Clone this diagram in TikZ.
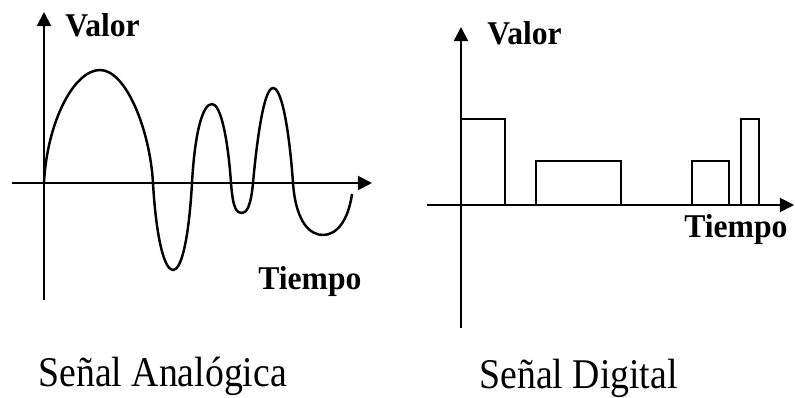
\documentclass[tikz,border=0pt]{standalone}
\usepackage{fontspec}
\setmainfont{Liberation Serif}
\usetikzlibrary{arrows.meta, positioning}

\begin{document}
\begin{tikzpicture}[
  x=0.02cm, y=-0.02cm,
  eje/.style={draw=black, line width=1.1pt, -{Triangle[length=8pt,width=8pt]}},
  onda/.style={draw=black, line width=1.4pt, line join=round},
  pulso/.style={draw=black, line width=1.1pt, line join=miter},
  etiq/.style={font=\fontsize{18}{21}\selectfont\bfseries, inner sep=0pt, anchor=base west},
  titulo/.style={font=\fontsize{21.5}{25}\selectfont, inner sep=0pt, anchor=base west}
]
\useasboundingbox (0,0) rectangle (795,398);

\coordinate (abajoA) at (44,300);
\coordinate (arribaA) at (44,12);
\coordinate (izqA) at (12,183);
\coordinate (derA) at (372,183);
\coordinate (abajoD) at (461,328);
\coordinate (arribaD) at (461,27);
\coordinate (izqD) at (427,205);
\coordinate (derD) at (794,205);

\draw[eje] (abajoA) -- (arribaA);
\draw[eje] (izqA) -- (derA);
\draw[eje] (abajoD) -- (arribaD);
\draw[eje] (izqD) -- (derD);

\node[etiq] (valorA)  at (65,37)   {\scalebox{1}[1.05]{Valor}};
\node[etiq] (tiempoA) at (258,290) {\scalebox{1}[1.05]{Tiempo}};
\node[etiq] (valorD)  at (487,45)  {\scalebox{1}[1.05]{Valor}};
\node[etiq] (tiempoD) at (684,238) {\scalebox{1}[1.05]{Tiempo}};

\draw[onda] (44,183)
  .. controls (47,122) and (74,70) .. (100,70)
  .. controls (126,70) and (150,130) .. (153,183)
  .. controls (156,236) and (164,270) .. (173,270)
  .. controls (182,270) and (189,236) .. (192,183)
  .. controls (195,130) and (203,104) .. (212,104)
  .. controls (221,104) and (228,140) .. (231,183)
  .. controls (233,210) and (237,213) .. (242,213)
  .. controls (247,213) and (251,205) .. (253,183)
  .. controls (256,150) and (263,88) .. (273,88)
  .. controls (283,88) and (290,140) .. (293,183)
  .. controls (296,224) and (311,235) .. (323,235)
  .. controls (336,235) and (348,222) .. (352,194);

\draw[pulso] (461,205) -- (461,119) -- (505,119) -- (505,205)
  -- (536,205) -- (536,161) -- (621,161) -- (621,205)
  -- (692,205) -- (692,161) -- (729,161) -- (729,205)
  -- (741,205) -- (741,119) -- (759,119) -- (759,205);

\node[titulo] (tituloA) at (38,387)  {\scalebox{1}[1.12]{Señal Analógica}};
\node[titulo] (tituloD) at (479,389) {\scalebox{1}[1.12]{Señal Digital}};

\end{tikzpicture}
\end{document}
